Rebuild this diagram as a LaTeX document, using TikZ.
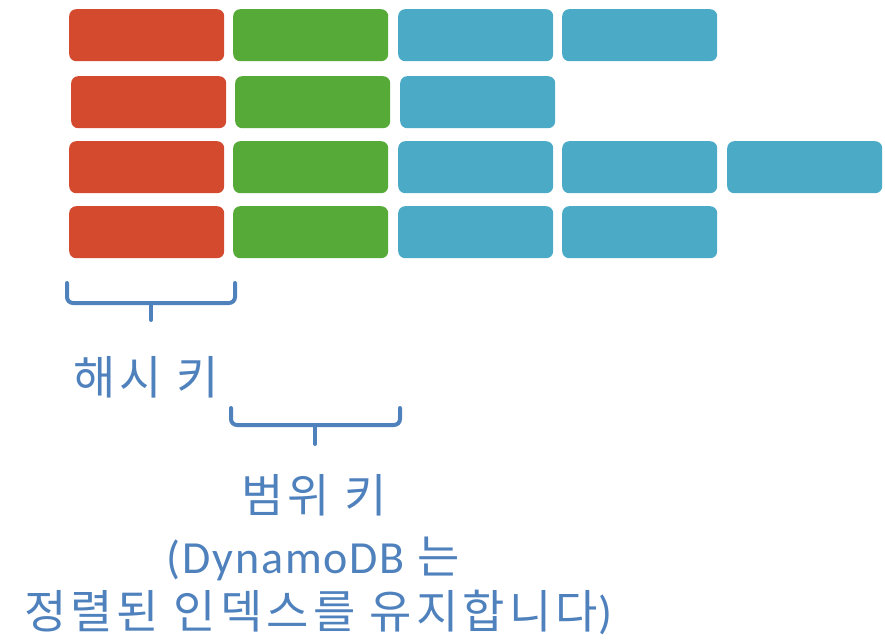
\documentclass[tikz,border=0pt]{standalone}
\usepackage{fontspec}
\setmainfont{Carlito}[LetterSpace=4]
\newfontfamily\kr{Noto Sans CJK KR}[LetterSpace=9]
\definecolor{cred}{RGB}{211,74,47}
\definecolor{cgreen}{RGB}{86,170,55}
\definecolor{ccyan}{RGB}{75,171,198}
\definecolor{cblue}{RGB}{79,129,189}
\begin{document}
\begin{tikzpicture}[x=1pt,y=-1pt,
  cell/.style={rounded corners=7pt,inner sep=0pt,minimum width=155pt,minimum height=52pt,anchor=north west},
  redcell/.style={cell,fill=cred},
  greencell/.style={cell,fill=cgreen},
  cyancell/.style={cell,fill=ccyan},
  brace/.style={draw=cblue,line width=4pt,line cap=round,line join=round,rounded corners=6pt},
  lbl/.style={text=cblue,font=\fontsize{46}{52}\selectfont,inner sep=0pt}]
\useasboundingbox (0,0) rectangle (885,640);
% row 1
\node[redcell]   (r1a) at (69,9) {};
\node[greencell] (r1b) at (233,9) {};
\node[cyancell]  (r1c) at (398,9) {};
\node[cyancell]  (r1d) at (562,9) {};
% row 2
\node[redcell]   (r2a) at (71,76) {};
\node[greencell] (r2b) at (235,76) {};
\node[cyancell]  (r2c) at (400,76) {};
% row 3
\node[redcell]   (r3a) at (69,141) {};
\node[greencell] (r3b) at (233,141) {};
\node[cyancell]  (r3c) at (398,141) {};
\node[cyancell]  (r3d) at (562,141) {};
\node[cyancell]  (r3e) at (727,141) {};
% row 4
\node[redcell]   (r4a) at (69,206) {};
\node[greencell] (r4b) at (233,206) {};
\node[cyancell]  (r4c) at (398,206) {};
\node[cyancell]  (r4d) at (562,206) {};
% braces
\draw[brace] (67,283) -- (67,303) -- (235,303) -- (235,283);
\draw[brace] (151,303) -- (151,320);
\draw[brace] (231,408) -- (231,425) -- (400,425) -- (400,408);
\draw[brace] (315,425) -- (315,444);
% labels
\node[lbl] (hash) at (146,377) {\kr 해시 키};
\node[lbl] (range) at (314,495) {\kr 범위 키};
\node[lbl] (dyn) at (313,559) {(DynamoDB {\kr 는}};
\node[lbl] (sorted) at (318,612) {{\kr 정렬된 인덱스를 유지합니다})};
\end{tikzpicture}
\end{document}
